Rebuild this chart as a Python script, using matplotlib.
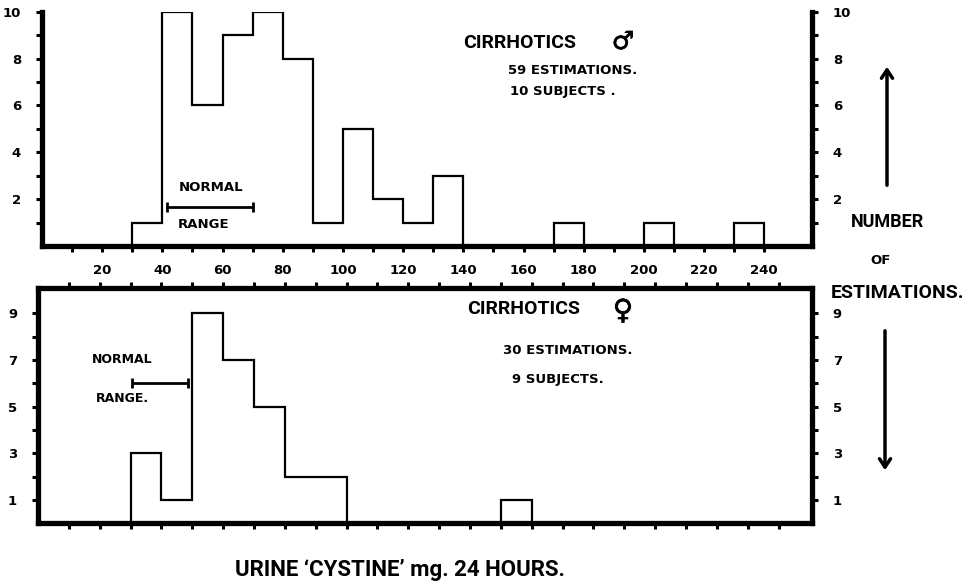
import numpy as np
import matplotlib.pyplot as plt
import matplotlib.patheffects as pe
from matplotlib.patches import FancyArrowPatch

# urine 'cystine' histogram, cirrhotics male (top) and female (bottom)
male_edges = [30, 40, 50, 60, 70, 80, 90, 100, 110, 120, 130, 140, 150, 160,
              170, 180, 190, 200, 210, 220, 230, 240]
male_counts = [1, 10, 6, 9, 10, 8, 1, 5, 2, 1, 3, 0, 0, 0, 1, 0, 0, 1, 0, 0, 1]

female_edges = [30, 40, 50, 60, 70, 80, 90, 100, 110, 120, 130, 140, 150, 160]
female_counts = [3, 1, 9, 7, 5, 2, 2, 0, 0, 0, 0, 0, 1]

male_range = [41.5, 70]
female_range = [30.5, 48.5]

x_ticks = [10, 20, 30, 40, 50, 60, 70, 80, 90, 100, 110, 120, 130, 140, 150,
           160, 170, 180, 190, 200, 210, 220, 230, 240]
x_labels = ['' if v % 20 else str(v) for v in x_ticks]

plt.rcParams['font.family'] = ['DejaVu Sans']
plt.rcParams['font.weight'] = 'bold'
NARROW = ['Roboto', 'DejaVu Sans']
HEAVY = [pe.withStroke(linewidth=0.5, foreground='black')]

W, H = 968, 587
fig = plt.figure(figsize=(W / 100, H / 100), dpi=100)


def fx(px):
    return px / W


def fy(py):
    return 1 - py / H


def style_axes(ax):
    for s in ax.spines.values():
        s.set_linewidth(3.8)
        s.set_capstyle('projecting')
    ax.tick_params(axis='both', direction='out', length=4, width=2.2,
                   labelsize=9.5, pad=11)
    ax.set_xticks(x_ticks)


# ---- top panel (male)
ax1 = fig.add_axes([fx(42), fy(246), fx(812 - 42), (246 - 11.7) / H])
ax1.stairs(male_counts, male_edges, color='black', lw=1.6)
ax1.set_xlim(0, (812 - 42) / 3.0095)
ax1.set_ylim(0, 10)
ax1.spines['top'].set_visible(False)
style_axes(ax1)
ax1.set_xticklabels(x_labels, fontweight='bold')
ax1.tick_params(axis='x', pad=9)
ax1.set_yticks(range(1, 11))
ax1.set_yticklabels([str(i) if i % 2 == 0 else '' for i in range(1, 11)],
                    fontweight='bold')
ax1.tick_params(axis='y', left=True, right=True, labelleft=True,
                labelright=True, pad=11)
for lab in ax1.get_yticklabels(which='both'):
    lab.set_fontweight('bold')

# normal range bar
mid = np.mean(male_range)
ax1.errorbar([mid], [1.67], xerr=[[mid - male_range[0]], [male_range[1] - mid]],
             color='black', lw=2, capsize=3.5, capthick=2)
ax1.text(56.2, 2.48, 'NORMAL', ha='center', va='center', fontsize=9.5,
         fontweight='bold')
ax1.text(53.7, 0.9, 'RANGE', ha='center', va='center', fontsize=9.5,
         fontweight='bold')

# ---- bottom panel (female)
ax2 = fig.add_axes([fx(38), fy(523.3), fx(812 - 38), (523.3 - 288) / H])
ax2.stairs(female_counts, female_edges, color='black', lw=1.6)
ax2.set_xlim(0, (812 - 38) / 3.086)
ax2.set_ylim(0, (523.3 - 288) / 23.33)
style_axes(ax2)
ax2.tick_params(axis='x', top=True, bottom=True, labelbottom=False,
                labeltop=False)
ax2.set_yticks(range(1, 10))
ax2.set_yticklabels([str(i) if i % 2 else '' for i in range(1, 10)],
                    fontweight='bold')
ax2.tick_params(axis='y', left=True, right=True, labelleft=True,
                labelright=True, pad=11)
for lab in ax2.get_yticklabels(which='both'):
    lab.set_fontweight('bold')

mid = np.mean(female_range)
ax2.errorbar([mid], [6.0], xerr=[[mid - female_range[0]], [female_range[1] - mid]],
             color='black', lw=2, capsize=3.5, capthick=2)
ax2.text(27.4, 7.04, 'NORMAL', ha='center', va='center', fontsize=9,
         fontweight='bold')
ax2.text(27.5, 5.37, 'RANGE.', ha='center', va='center', fontsize=9,
         fontweight='bold')

# ---- titles / annotations (figure pixel coords)
fig.text(fx(463), fy(43), 'CIRRHOTICS', ha='left', va='center', fontsize=14,
         fontweight='bold', family=NARROW)
fig.text(fx(623), fy(42), '\u2642', ha='center', va='center', fontsize=18,
         fontweight='bold', path_effects=HEAVY)
fig.text(fx(508), fy(70), '59 ESTIMATIONS.', ha='left', va='center',
         fontsize=9.5, fontweight='bold')
fig.text(fx(510), fy(92), '10 SUBJECTS .', ha='left', va='center',
         fontsize=9.5, fontweight='bold')

fig.text(fx(467), fy(309), 'CIRRHOTICS', ha='left', va='center', fontsize=14,
         fontweight='bold', family=NARROW)
fig.text(fx(623), fy(311), '\u2640', ha='center', va='center', fontsize=20,
         fontweight='bold', path_effects=HEAVY)
fig.text(fx(503), fy(350), '30 ESTIMATIONS.', ha='left', va='center',
         fontsize=9.5, fontweight='bold')
fig.text(fx(512), fy(379), '9 SUBJECTS.', ha='left', va='center',
         fontsize=9.5, fontweight='bold')

fig.text(fx(887), fy(222), 'NUMBER', ha='center', va='center', fontsize=13,
         fontweight='bold', family=NARROW)
fig.text(fx(881), fy(261), 'OF', ha='center', va='center', fontsize=9.5,
         fontweight='bold')
fig.text(fx(898), fy(293), 'ESTIMATIONS.', ha='center', va='center',
         fontsize=14, fontweight='bold', family=NARROW)

fig.text(fx(400), fy(570), "URINE \u2018CYSTINE\u2019 mg. 24 HOURS.", ha='center',
         va='center', fontsize=16, fontweight='bold', family=NARROW)

# vertical arrows beside the axis title
fig.add_artist(FancyArrowPatch(
    (fx(887), fy(188)), (fx(887), fy(64)), transform=fig.transFigure,
    arrowstyle='->,head_length=6,head_width=4', lw=2.5, color='black'))
fig.add_artist(FancyArrowPatch(
    (fx(885), fy(328)), (fx(885), fy(473)), transform=fig.transFigure,
    arrowstyle='->,head_length=6,head_width=4', lw=2.5, color='black'))

fig.savefig('out.png', dpi=100)
